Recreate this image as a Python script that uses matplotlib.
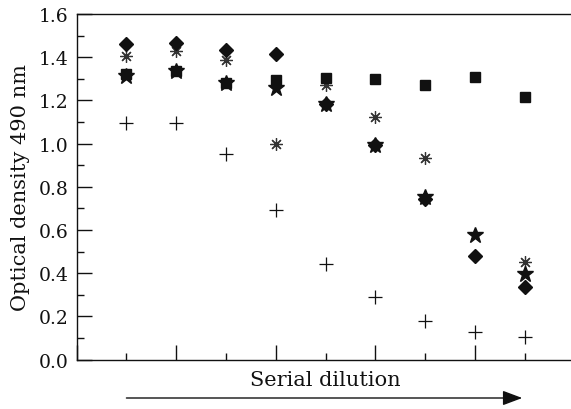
import numpy as np
import matplotlib
matplotlib.use("Agg")
import matplotlib.pyplot as plt
from matplotlib.ticker import MultipleLocator

# dilution steps (no labels on the x axis)
steps = [1, 2, 3, 4, 5, 6, 7, 8, 9]

# optical density at 490 nm per series
od_diamond = [1.46, 1.465, 1.435, 1.415, 1.185, 0.995, 0.745, 0.48, 0.335]
od_asterisk = [1.405, 1.43, 1.385, 1.00, 1.27, 1.125, 0.935, np.nan, 0.45]
od_square = [1.32, 1.335, 1.28, 1.295, 1.305, 1.298, 1.271, 1.31, 1.217]
od_star = [1.315, 1.335, 1.28, 1.256, 1.185, 0.995, 0.752, 0.578, 0.398]
od_plus = [1.097, 1.097, 0.952, 0.692, 0.44, 0.29, 0.18, 0.126, 0.103]

INK = "#111111"

plt.rcParams["font.family"] = ["DejaVu Serif"]

fig = plt.figure(figsize=(5.71, 4.10), dpi=100)
ax = fig.add_axes([0.1342, 0.1207, 0.872, 0.8427])

ax.plot(steps, od_asterisk, linestyle="none", marker=(8, 2, 0), markersize=9,
        markeredgewidth=0.9, color="#333333")
ax.plot(steps, od_star, linestyle="none", marker="*", markersize=12,
        color=INK)
ax.plot(steps, od_diamond, linestyle="none", marker="D", markersize=7,
        color=INK)
ax.plot(steps, od_square, linestyle="none", marker="s", markersize=7.5,
        color=INK)
ax.plot(steps, od_plus, linestyle="none", marker="+", markersize=10,
        markeredgewidth=0.9, color=INK)

ax.set_xlim(0, 10)
ax.set_ylim(0, 1.6)
ax.yaxis.set_major_locator(MultipleLocator(0.2))
ax.yaxis.set_minor_locator(MultipleLocator(0.1))
ax.xaxis.set_major_locator(MultipleLocator(2))
ax.xaxis.set_minor_locator(MultipleLocator(1))
ax.set_yticklabels([f"{v:.1f}" for v in ax.get_yticks()])
ax.tick_params(axis="both", which="both", direction="in", color=INK,
               width=1.0, labelsize=13.5, labelcolor=INK)
ax.tick_params(axis="both", which="major", length=11, pad=6)
ax.tick_params(axis="both", which="minor", length=5)
ax.tick_params(axis="x", labelbottom=False)

for side in ("left", "bottom", "top"):
    ax.spines[side].set_color(INK)
    ax.spines[side].set_linewidth(1.0)
ax.spines["right"].set_visible(False)

ax.set_ylabel("Optical density 490 nm", fontsize=15, color=INK, labelpad=6)
ax.set_xlabel("Serial dilution", fontsize=15, color=INK, labelpad=4)

# direction arrow under the x label
ax.annotate("", xy=(8.95, 11), xycoords=("data", "figure pixels"),
            xytext=(1.0, 11), textcoords=("data", "figure pixels"),
            arrowprops=dict(arrowstyle="-|>,head_length=1.2,head_width=0.45",
                            color=INK, lw=1.0, shrinkA=0, shrinkB=0),
            annotation_clip=False)

fig.savefig("out.png", dpi=100)
